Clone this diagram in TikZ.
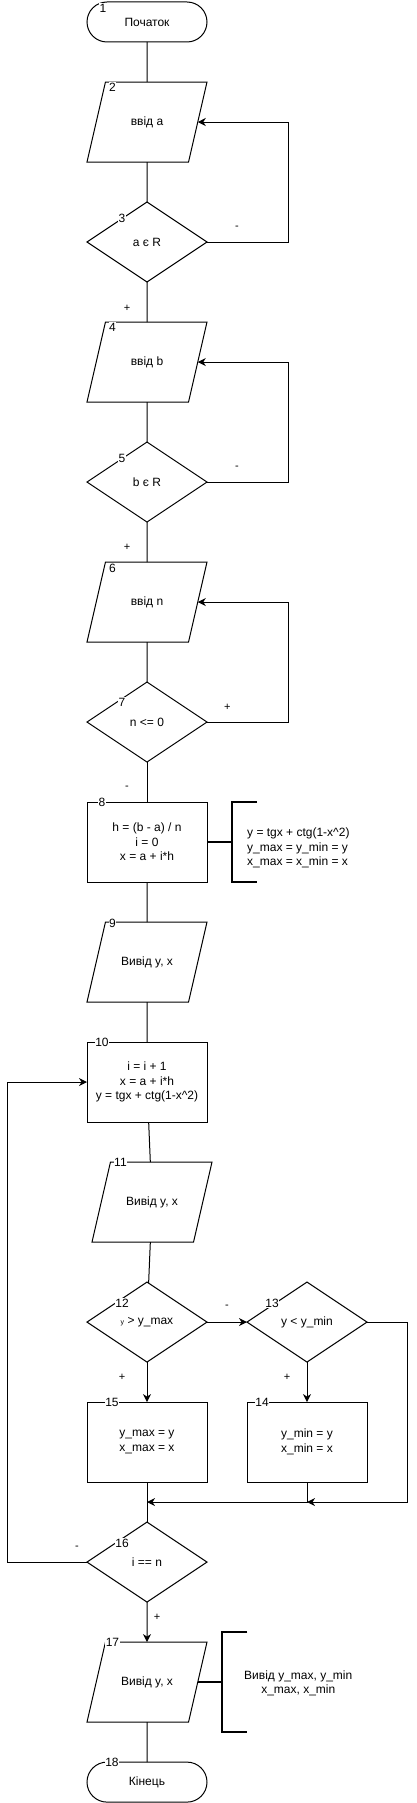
\documentclass[tikz,border=0pt]{standalone}
\usepackage{fontspec}
\setmainfont{Liberation Sans}
\usetikzlibrary{arrows.meta,shapes.geometric,positioning,calc}
\tikzset{
  % Define standard arrow tip
  >={Stealth[length=8pt,width=8pt,inset=2.5pt]},
  % Define style for boxes
  box/.style={
    rectangle,
    draw=black, line width=1pt,
    minimum width=120pt,
    minimum height=80pt,
    inner sep=0pt, outer sep=0pt,
    align=center},
  % Define terminal style
  term/.style={
    box,
    rounded corners=20pt,
    minimum height=40pt},
  % Define input/output style
  io/.style={
    trapezium, trapezium left angle=77, trapezium right angle=103,
    trapezium stretches body=true,
    draw=black, line width=1pt,
    text height=8.5pt, text depth=2.5pt,
    inner xsep=0pt, inner ysep=34.5pt,
    minimum width=120pt,
    outer sep=0pt, align=center},
  % Define decision style
  decision/.style={
    diamond, aspect=1.5,
    draw=black, line width=1pt,
    minimum width=120pt, minimum height=80pt,
    inner sep=0pt, outer sep=0pt, align=center},
  % Define number style
  num/.style={fill=white, inner sep=0.5pt, font=\fontsize{12}{12}\selectfont},
  % Define branch label style
  lbl/.style={inner sep=0pt, font=\fontsize{11}{11}\selectfont},
  % Define comment style
  note/.style={inner sep=0pt},
  % Define bracket style
  brace/.style={draw, line width=2pt},
  % line
  line/.style = {draw, line width=1pt},
  % arrow
  arrow/.style = {draw, ->, line width=1pt},
}
\begin{document}
\begin{tikzpicture}[node distance=40pt, font=\fontsize{12}{14.5}\selectfont]
  \useasboundingbox (0,0) rectangle (416pt,-1803pt);
  % nodes
  \node[term] (s1) at (147pt,-22pt) {Початок};
  \node[io, below=of s1] (p2) {ввід a};
  \node[decision, below=of p2] (d3) {a є R};
  \node[io, below=of d3] (p4) {ввід b};
  \node[decision, below=of p4] (d5) {b є R};
  \node[io, below=of d5] (p6) {ввід n};
  \node[decision, below=of p6] (d7) {n <= 0};
  \node[box, below=of d7] (r8) {h = (b - a) / n\\ i = 0\\ x = a + i*h};
  \node[io, below=of r8] (p9) {Вивід y, x};
  \node[box, below=of p9] (r10) {i = i + 1\\ x = a + i*h\\ y = tgx + ctg(1-x\textasciicircum 2)};
  \node[io, below=of r10, xshift=5pt] (p11) {Вивід y, x};
  \node[decision, below=of p11, xshift=-5pt] (d12) {{\fontsize{7}{7}\selectfont y} > y\_max};
  \node[decision, right=of d12] (d13) {y < y\_min};
  \node[box, below=of d12] (r15) {y\_max = y\\ x\_max = x};
  \node[box, below=of d13] (r14) {y\_min = y\\ x\_min = x};
  \node[decision, below=of r15] (d16) {i == n};
  \node[io, below=of d16] (p17) {Вивід y, x};
  \node[term, below=of p17] (s18) {Кінець};
  % comments
  \node[note, align=left, anchor=west, yshift=-6pt] (t8) at ([xshift=40pt]r8.east)
  {y = tgx + ctg(1-x\textasciicircum 2)\\ y\_max = y\_min = y\\ x\_max = x\_min = x};
  \coordinate (b8) at ([xshift=25pt]r8.east);
  \path[brace] (r8.east) -- (b8);
  \path[brace] ([xshift=50pt]r8.north east) -- ([xshift=25pt]r8.north east)
    -- ([xshift=25pt]r8.south east) -- ([xshift=50pt]r8.south east);
  \coordinate (b17) at ([xshift=24.5pt]p17.east);
  \path[brace] (p17.east) -- (b17);
  \path[brace] ([shift={(25pt,50pt)}]b17) -- ([yshift=50pt]b17)
    -- ([yshift=-50pt]b17) -- ([shift={(25pt,-50pt)}]b17);
  \node[note, align=center] (t17) at ([shift={(76pt,-1pt)}]b17) {Вивід y\_max, y\_min\\ x\_max, x\_min};
  % numbers
  \node[num] (n1) at ([shift={(16pt,-6pt)}]s1.north west) {1};
  \node[num] (n2) at ([shift={(7pt,-5pt)}]p2.top left corner) {2};
  \node[num] (n3) at ([shift={(-25pt,24pt)}]d3.center) {3};
  \node[num] (n4) at ([shift={(7pt,-5pt)}]p4.top left corner) {4};
  \node[num] (n5) at ([shift={(-25pt,24pt)}]d5.center) {5};
  \node[num] (n6) at ([shift={(7pt,-6pt)}]p6.top left corner) {6};
  \node[num] (n7) at ([shift={(-25pt,20pt)}]d7.center) {7};
  \node[num] (n8) at ([xshift=15pt]r8.north west) {8};
  \node[num] (n9) at ([shift={(7pt,-1pt)}]p9.top left corner) {9};
  \node[num] (n10) at ([xshift=15pt]r10.north west) {10};
  \node[num] (n11) at ([xshift=10pt]p11.top left corner) {11};
  \node[num] (n12) at ([shift={(-25pt,19pt)}]d12.center) {12};
  \node[num] (n13) at ([shift={(-35pt,19pt)}]d13.center) {13};
  \node[num] (n14) at ([xshift=15pt]r14.north west) {14};
  \node[num] (n15) at ([xshift=25pt]r15.north west) {15};
  \node[num] (n16) at ([shift={(-25pt,19pt)}]d16.center) {16};
  \node[num] (n17) at ([xshift=7pt]p17.top left corner) {17};
  \node[num] (n18) at ([xshift=25pt]s18.north west) {18};
  % loop corners
  \coordinate (c3) at ([xshift=81pt]d3.east);
  \coordinate (c5) at ([xshift=81pt]d5.east);
  \coordinate (c7) at ([xshift=81pt]d7.east);
  \coordinate (c13) at ([xshift=40pt]d13.east);
  \coordinate (j14) at ([yshift=-20pt]r14.south);
  \coordinate (j15) at ([yshift=-20pt]r15.south);
  \coordinate (c16) at ([xshift=-80pt]d16.west);
  % lines
  \path[line] (s1) -- (p2);
  \path[line] (p2) -- (d3);
  \path[arrow] (d3.east) -- node[lbl, pos=0.37, yshift=14pt] (m3) {-} (c3) |- (p2.east);
  \path[line] (d3) -- node[lbl, pos=0.65, xshift=-20pt] (m3b) {+} (p4);
  \path[line] (p4) -- (d5);
  \path[arrow] (d5.east) -- node[lbl, pos=0.37, yshift=14pt] (m5) {-} (c5) |- (p4.east);
  \path[line] (d5) -- node[lbl, pos=0.625, xshift=-20pt] (m5b) {+} (p6);
  \path[line] (p6) -- (d7);
  \path[arrow] (d7.east) -- node[lbl, pos=0.25, yshift=15pt] (m7) {+} (c7) |- (p6.east);
  \path[line] (d7) -- node[lbl, pos=0.65, xshift=-20pt] (m7b) {-} (r8);
  \path[line] (r8) -- (p9);
  \path[line] (p9) -- (r10);
  \path[line] (r10) -- (p11);
  \path[line] (p11) -- (d12);
  \path[arrow] (d12) -- node[lbl, pos=0.5, yshift=15pt] (m12) {-} (d13);
  \path[arrow] (d12) -- node[lbl, pos=0.375, xshift=-25pt] (m12b) {+} (r15);
  \path[arrow] (d13) -- node[lbl, pos=0.375, xshift=-20pt] (m13b) {+} (r14);
  \path[arrow] (d13.east) -- (c13) |- (j14);
  \path[arrow] (r14) -- (j14) -- (j15);
  \path[line] (r15) -- (d16);
  \path[arrow] (d16.west) -- node[lbl, pos=0.125, yshift=14pt] (m16) {-} (c16) |- (r10.west);
  \path[arrow] (d16) -- node[lbl, pos=0.375, xshift=10pt] (m16b) {+} (p17);
  \path[line] (p17) -- (s18);
\end{tikzpicture}
\end{document}
